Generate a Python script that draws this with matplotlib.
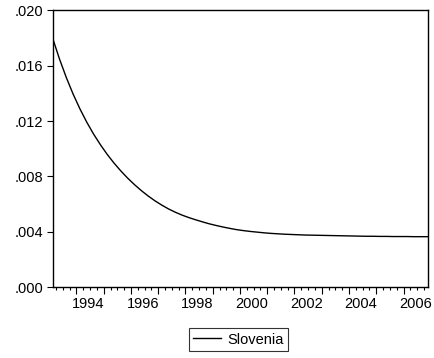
import pandas as pd
import matplotlib
matplotlib.use("Agg")
import matplotlib.pyplot as plt
from matplotlib.ticker import FixedLocator, FuncFormatter

plt.rcParams['font.family'] = ['Liberation Sans', 'DejaVu Sans']

# quarterly series, 1993Q1 - 2006Q4
start_period = '1993Q1'
end_period = '2006Q4'
slovenia = [
    0.01800, 0.01650, 0.01516, 0.01396, 0.01289, 0.01193, 0.01107, 0.01030,
    0.00960, 0.00897, 0.00840, 0.00788, 0.00741, 0.00698, 0.00659, 0.00624,
    0.00593, 0.00565, 0.00541, 0.00520, 0.00502, 0.00486, 0.00471, 0.00457,
    0.00445, 0.00434, 0.00424, 0.00415, 0.00408, 0.00402, 0.00397, 0.00392,
    0.00388, 0.00385, 0.00382, 0.00380, 0.00378, 0.00376, 0.00375, 0.00374,
    0.00373, 0.00372, 0.00371, 0.00370, 0.00369, 0.00368, 0.00367, 0.00367,
    0.00366, 0.00366, 0.00365, 0.00365, 0.00365, 0.00364, 0.00364, 0.00364,
]
year_labels = [1994, 1996, 1998, 2000, 2002, 2004, 2006]
y_ticks = [0.000, 0.004, 0.008, 0.012, 0.016, 0.020]

periods = pd.period_range(start_period, end_period, freq='Q')
x = periods.year + (periods.quarter - 1) / 4 + 0.125

fig = plt.figure(figsize=(4.35, 3.58), dpi=100)
ax = fig.add_axes([0.121, 0.1983, 0.8636, 0.7724])

ax.plot(x, slovenia, color='black', linewidth=1.0, label='Slovenia')

ax.set_xlim(1993.125, 2006.91)
ax.set_ylim(0, 0.02)

# y axis, EViews style labels like ".016"
ax.yaxis.set_major_locator(FixedLocator(y_ticks))
ax.yaxis.set_major_formatter(FuncFormatter(lambda v, p: f'{v:.3f}'.lstrip('0')))
ax.tick_params(axis='y', direction='out', length=4.5, width=0.8,
               labelsize=10.5, pad=2, right=False)

# x axis: yearly ticks, quarterly minor ticks, labels centred in the year
ax.xaxis.set_major_locator(FixedLocator(list(range(1994, 2007))))
ax.xaxis.set_minor_locator(FixedLocator([1993 + q / 4 for q in range(1, 56)]))
ax.xaxis.set_major_formatter(FuncFormatter(lambda v, p: ''))
ax.tick_params(axis='x', which='major', direction='out', length=5, width=0.8, top=False)
ax.tick_params(axis='x', which='minor', direction='out', length=2.5, width=0.8, top=False)
for yr in year_labels:
    ax.annotate(str(yr), xy=(yr + 0.44, 0), xycoords=('data', 'axes fraction'),
                xytext=(0, -7.5), textcoords='offset points',
                ha='center', va='top', fontsize=10.5)

for sp in ax.spines.values():
    sp.set_linewidth(1.0)
    sp.set_color('black')

leg = ax.legend(loc='center', bbox_to_anchor=(0.494, -0.19), fontsize=10.5,
                frameon=True, fancybox=False, shadow=False,
                handlelength=1.9, handletextpad=0.45, borderpad=0.3,
                borderaxespad=0)
leg.get_frame().set_edgecolor('black')
leg.get_frame().set_linewidth(0.8)

fig.savefig('out.png', dpi=100)
